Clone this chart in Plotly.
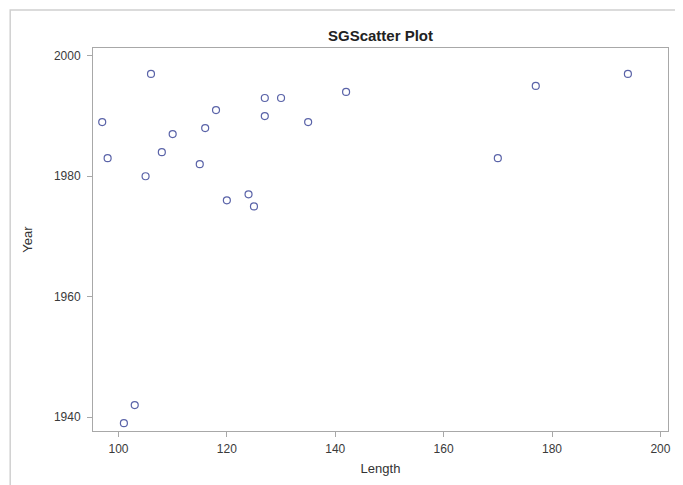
import plotly.graph_objects as go

length = [97, 98, 106, 105, 101, 103, 108, 110, 115, 116, 118, 120, 124, 125,
          127, 127, 130, 135, 142, 170, 177, 194]
year = [1989, 1983, 1997, 1980, 1939, 1942, 1984, 1987, 1982, 1988, 1991, 1976,
        1977, 1975, 1993, 1990, 1993, 1989, 1994, 1983, 1995, 1997]
x_ticks = [100, 120, 140, 160, 180, 200]
y_ticks = [1940, 1960, 1980, 2000]

FONT = "Liberation Sans, Arial"

fig = go.Figure(go.Scatter(
    x=length, y=year, mode="markers",
    marker=dict(symbol="circle-open", size=7, color="#5a63a8", line=dict(width=1.2)),
))

axis_common = dict(
    showgrid=False, zeroline=False, showline=True, linecolor="#a8a8a8", linewidth=1,
    mirror=True, ticks="outside", ticklen=5, tickcolor="#a8a8a8",
    tickfont=dict(family=FONT, size=12, color="#3a3a3a"),
)
fig.update_xaxes(range=[95.3, 201.4], tickvals=x_ticks, ticklabelstandoff=2,
                 title=dict(text="Length", font=dict(family=FONT, size=13, color="#333333"), standoff=8),
                 **axis_common)
fig.update_yaxes(range=[1937.7, 2001.3], tickvals=y_ticks, ticklabelstandoff=4,
                 title=dict(text="Year", font=dict(family=FONT, size=13, color="#333333"), standoff=18),
                 **axis_common)

fig.add_shape(type="rect", xref="paper", yref="paper",
              x0=-0.144, x1=1.024, y0=-0.2, y1=1.099,
              line=dict(color="#d0d0d0", width=1.5), layer="below")

# The page adds an 8px body margin, so the figure is 8px smaller and its margins shifted.
fig.update_layout(
    width=675, height=477,
    margin=dict(l=85, r=15, t=40, b=54),
    paper_bgcolor="white", plot_bgcolor="white",
    showlegend=False,
    title=dict(text="<b>SGScatter Plot</b>", x=0.5, xref="paper", xanchor="center",
               y=1 - 28 / 477, yanchor="middle",
               font=dict(family=FONT, size=15, color="#222222")),
)

fig.write_html("out.html")
